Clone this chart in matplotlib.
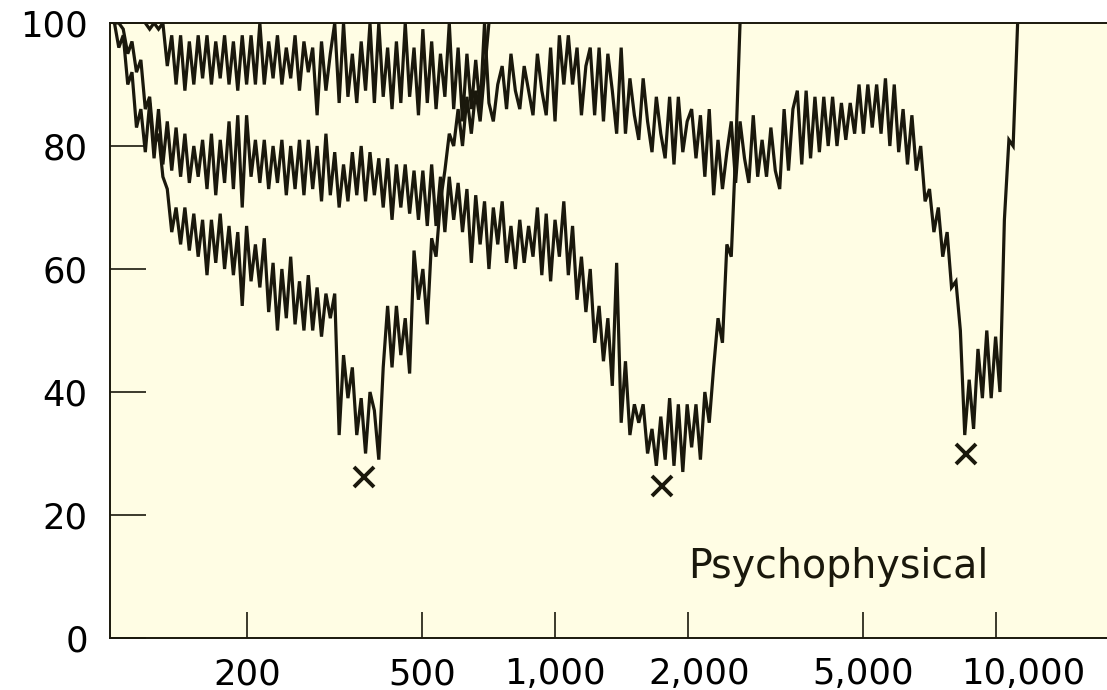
import matplotlib
matplotlib.use("Agg")
import matplotlib.pyplot as plt
from matplotlib.ticker import NullLocator
from matplotlib.transforms import ScaledTranslation

# Sweep frequencies of the tracking (Hz)
sweep_hz = [
    100, 102.3, 104.7, 107.2, 109.6, 112.2, 114.8, 117.5, 120.2, 123.0,
    125.9, 128.8, 131.8, 134.9, 138.0, 141.3, 144.5, 147.9, 151.4, 154.9,
    158.5, 162.2, 166.0, 169.8, 173.8, 177.8, 182.0, 186.2, 190.5, 195.0,
    199.5, 204.2, 208.9, 213.8, 218.8, 223.9, 229.1, 234.4, 239.9, 245.5,
    251.2, 257.0, 263.0, 269.2, 275.4, 281.8, 288.4, 295.1, 302.0, 309.0,
    316.2, 323.6, 331.1, 338.8, 346.7, 354.8, 363.1, 371.5, 380.2, 389.0,
    398.1, 407.4, 416.9, 426.6, 436.5, 446.7, 457.1, 467.7, 478.6, 489.8,
    501.2, 512.9, 524.8, 537.0, 549.5, 562.3, 575.4, 588.8, 602.6, 616.6,
    631.0, 645.7, 660.7, 676.1, 691.8, 707.9, 724.4, 741.3, 758.6, 776.2,
    794.3, 812.8, 831.8, 851.1, 871.0, 891.3, 912.0, 933.3, 955.0, 977.2,
    1000, 1023, 1047, 1072, 1096, 1122, 1148, 1175, 1202, 1230,
    1259, 1288, 1318, 1349, 1380, 1413, 1445, 1479, 1514, 1549,
    1585, 1622, 1660, 1698, 1738, 1778, 1820, 1862, 1905, 1950,
    1995, 2042, 2089, 2138, 2188, 2239, 2291, 2344, 2399, 2455,
    2512, 2570, 2630, 2692, 2754, 2818, 2884, 2951, 3020, 3090,
    3162, 3236, 3311, 3388, 3467, 3548, 3631, 3715, 3802, 3890,
    3981, 4074, 4169, 4266, 4365, 4467, 4571, 4677, 4786, 4898,
    5012, 5129, 5248, 5370, 5495, 5623, 5754, 5888, 6026, 6166,
    6310, 6457, 6607, 6761, 6918, 7079, 7244, 7413, 7586, 7762,
    7943, 8128, 8318, 8511, 8710, 8913, 9120, 9333, 9550, 9772,
    10000, 10230, 10470, 10720, 10960, 11220,
]

# Masker level (dB SPL) traced for the probe near 370 Hz
curve_a_start = 0
curve_a_db = [
    100, 100, 99, 95, 97, 92, 94, 86, 88, 80,
    82, 75, 73, 66, 70, 64, 70, 63, 69, 62,
    68, 59, 68, 61, 69, 60, 67, 59, 66, 54,
    67, 58, 64, 57, 65, 53, 61, 50, 60, 52,
    62, 51, 58, 50, 59, 50, 57, 49, 56, 52,
    56, 33, 46, 39, 44, 33, 39, 30, 40, 37,
    29, 44, 54, 44, 54, 46, 52, 43, 63, 55,
    60, 51, 65, 62, 71, 76, 82, 80, 86, 80,
    88, 82, 89, 84, 92, 100,
]

# Probe near 1,800 Hz
curve_b_start = 0
curve_b_db = [
    100, 96, 98, 90, 92, 83, 86, 79, 87, 78,
    86, 77, 84, 76, 83, 75, 82, 74, 80, 75,
    81, 73, 82, 72, 81, 74, 84, 73, 85, 70,
    85, 75, 81, 74, 81, 73, 80, 74, 81, 72,
    80, 73, 81, 72, 81, 73, 80, 71, 82, 72,
    79, 70, 77, 71, 79, 72, 80, 71, 79, 72,
    78, 70, 78, 68, 77, 70, 77, 69, 76, 68,
    76, 67, 77, 67, 75, 66, 75, 68, 74, 66,
    73, 61, 72, 64, 71, 60, 70, 64, 71, 61,
    67, 60, 68, 61, 67, 62, 70, 59, 69, 58,
    68, 62, 71, 59, 67, 55, 62, 53, 60, 48,
    54, 45, 52, 41, 61, 35, 45, 33, 38, 35,
    38, 30, 34, 28, 36, 29, 39, 28, 38, 27,
    38, 31, 38, 29, 40, 35, 44, 52, 48, 64,
    62, 79, 100,
]

# Probe near 8,500 Hz
curve_c_start = 7
curve_c_db = [
    100, 99, 100, 99, 100, 93, 98, 90, 98, 89,
    97, 90, 98, 91, 98, 90, 97, 91, 98, 90,
    97, 89, 98, 90, 98, 90, 100, 90, 97, 91,
    98, 90, 96, 91, 98, 89, 97, 92, 96, 85,
    97, 89, 95, 100, 87, 100, 88, 95, 87, 97,
    89, 100, 87, 100, 88, 96, 86, 97, 87, 100,
    88, 96, 85, 99, 87, 97, 86, 95, 88, 100,
    86, 96, 84, 95, 86, 94, 86, 100, 87, 84,
    90, 93, 86, 95, 89, 86, 93, 89, 85, 95,
    89, 85, 96, 84, 98, 90, 98, 90, 96, 85,
    93, 96, 85, 96, 84, 95, 89, 82, 96, 82,
    91, 85, 81, 91, 84, 79, 88, 82, 78, 88,
    77, 88, 79, 84, 86, 78, 85, 75, 86, 72,
    81, 73, 79, 84, 74, 84, 78, 74, 85, 75,
    81, 75, 83, 76, 73, 86, 76, 86, 89, 77,
    89, 78, 88, 79, 88, 80, 88, 80, 87, 81,
    87, 82, 90, 82, 90, 83, 90, 82, 91, 80,
    90, 79, 86, 77, 85, 76, 80, 71, 73, 66,
    70, 62, 66, 57, 58, 50, 33, 42, 34, 47,
    39, 50, 39, 49, 40, 68, 81, 80, 100,
]

# Probe tones (frequency, level)
probe_hz = [369, 1750, 8570]
probe_db = [26.1, 24.7, 30.0]

x_ticks = [200, 500, 1000, 2000, 5000, 10000]
x_tick_labels = ["200", "500", "1,000", "2,000", "5,000", "10,000"]
y_ticks = [0, 20, 40, 60, 80, 100]
y_tick_labels = ["0", "20", "40", "60", "80", "100"]
panel_label = "Psychophysical"

INK = "#1a180c"
PAPER = "#FFFDE4"

fig = plt.figure(figsize=(11.07, 6.9), dpi=100)
fig.patch.set_facecolor("white")
ax = fig.add_axes([110 / 1107, 52 / 690, 1 - 110 / 1107, (638 - 23) / 690])
ax.set_facecolor(PAPER)
ax.set_xscale("log")
ax.set_xlim(97.7, 17900)
ax.set_ylim(0, 100)

for start, levels in ((curve_c_start, curve_c_db),
                      (curve_b_start, curve_b_db),
                      (curve_a_start, curve_a_db)):
    ax.plot(sweep_hz[start:start + len(levels)], levels, color=INK,
            lw=2.3, solid_joinstyle="miter")

ax.plot(probe_hz, probe_db, linestyle="none", marker="x", ms=15, mew=2.8,
        color=INK)

ax.text(2000, 9.8, panel_label, fontsize=28.5, family="DejaVu Sans",
        color=INK, ha="left", va="baseline")

ax.set_xticks(x_ticks)
ax.set_xticklabels(x_tick_labels)
ax.xaxis.set_minor_locator(NullLocator())
ax.set_yticks(y_ticks)
ax.set_yticklabels(y_tick_labels)

ax.tick_params(axis="both", direction="in", colors=INK, labelcolor="black",
               width=1.2, labelsize=25.5)
ax.tick_params(axis="y", length=26, pad=16)
ax.tick_params(axis="x", length=19, pad=14)
for lab in ax.get_xticklabels() + ax.get_yticklabels():
    lab.set_family("DejaVu Sans")

# small typeset offsets of some frequency labels (pixels, to the right)
label_shift_px = {"2,000": 12, "10,000": 28}
for lab in ax.get_xticklabels():
    dx = label_shift_px.get(lab.get_text(), 0)
    if dx:
        lab.set_transform(lab.get_transform()
                          + ScaledTranslation(dx / 100, 0, fig.dpi_scale_trans))

ax.spines["right"].set_visible(False)
for side in ("left", "bottom", "top"):
    ax.spines[side].set_color(INK)
    ax.spines[side].set_linewidth(1.4)

fig.savefig("out.png", dpi=100, facecolor="white")
